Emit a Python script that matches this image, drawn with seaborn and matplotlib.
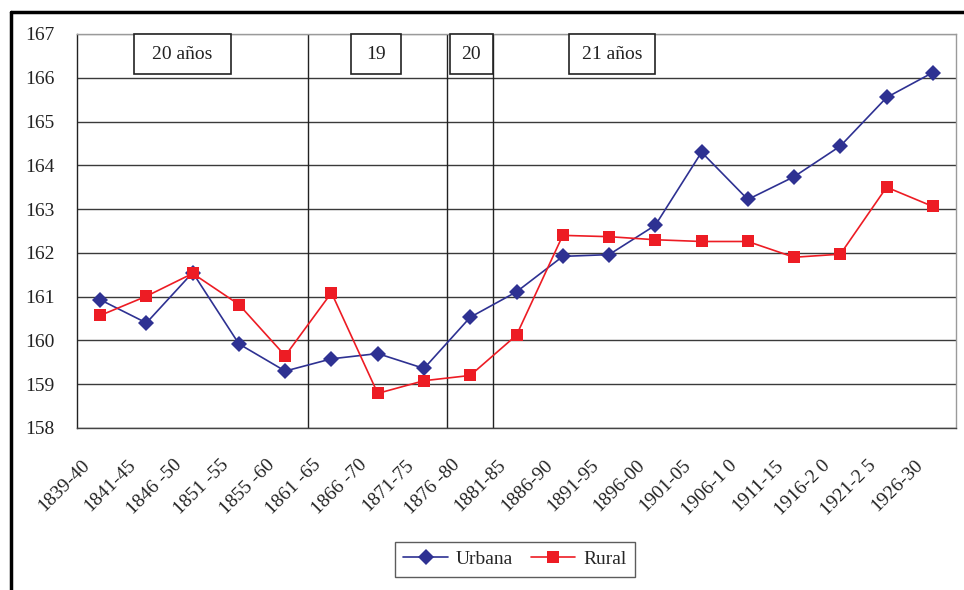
import numpy as np
import pandas as pd
import matplotlib.pyplot as plt
import matplotlib.transforms as mtransforms
from matplotlib.patches import Rectangle
from matplotlib.lines import Line2D
import seaborn as sns

# ── Data ──────────────────────────────────────────────────────
periodos = ["1839-40", "1841-45", "1846 -50", "1851 -55", "1855 -60",
            "1861 -65", "1866 -70", "1871-75", "1876 -80", "1881-85",
            "1886-90", "1891-95", "1896-00", "1901-05", "1906-1 0",
            "1911-15", "1916-2 0", "1921-2 5", "1926-30"]
urbana = [160.93, 160.40, 161.55, 159.92, 159.30, 159.58, 159.70, 159.36,
          160.53, 161.11, 161.92, 161.96, 162.63, 164.30, 163.22, 163.74,
          164.44, 165.55, 166.12]
rural = [160.57, 161.01, 161.53, 160.82, 159.65, 161.09, 158.79, 159.08,
         159.20, 160.12, 162.40, 162.37, 162.30, 162.26, 162.26, 161.90,
         161.97, 163.50, 163.06]
cortes = [4.5, 7.5, 8.5]
etiquetas = ["20 años", "19", "20", "21 años"]

df = pd.DataFrame({"pos": np.arange(len(periodos)), "Urbana": urbana, "Rural": rural})
long = df.melt(id_vars="pos", var_name="serie", value_name="talla")

# ── Style ─────────────────────────────────────────────────────
sns.set_style("white")
plt.rcParams["font.family"] = ["Liberation Serif", "DejaVu Serif"]
colores = {"Urbana": "#2E3192", "Rural": "#ED1C24"}
marcas = {"Urbana": "D", "Rural": "s"}
fs = 14

fig = plt.figure(figsize=(9.64, 5.90), dpi=100)
ax = fig.add_axes([0.0799, 0.2746, 0.9118, 0.6678])

# ── Grid and period separators ────────────────────────────────
for v in range(158, 168):
    ax.axhline(v, color="#3a3a3a" if v < 167 else "#9a9a9a", lw=1.0, zorder=1)
for c in cortes:
    ax.axvline(c, color="#222222", lw=1.0, zorder=1)

sns.lineplot(data=long, x="pos", y="talla", hue="serie", style="serie",
             palette=colores, markers=marcas, dashes=False, sort=False,
             lw=1.2, markersize=8, markeredgewidth=0, legend=False, ax=ax, zorder=3)

ax.set_xlim(-0.5, len(periodos) - 0.5)
ax.set_ylim(158, 167)
ax.set_yticks(range(158, 168))
ax.set_xticks(np.arange(len(periodos)))
ax.set_xticklabels(periodos, rotation=45, ha="right", va="center", rotation_mode="anchor")
ax.set_xticks(np.arange(len(periodos) + 1) - 0.5, minor=True)
ax.tick_params(axis="x", which="major", length=0, pad=25, labelsize=fs, labelcolor="#222222")
ax.tick_params(axis="x", which="minor", length=6, width=1, color="#444444", direction="out")
ax.tick_params(axis="y", length=6, width=1, color="#444444", direction="out",
               labelsize=fs, labelcolor="#222222", pad=10)
shift = mtransforms.ScaledTranslation(-0.13, 0, fig.dpi_scale_trans)
for t in ax.get_xticklabels():
    t.set_transform(t.get_transform() + shift)
ax.set_xlabel("")
ax.set_ylabel("")

for s in ["top", "right"]:
    ax.spines[s].set_color("#9a9a9a")
ax.spines["left"].set_color("#222222")
ax.spines["bottom"].set_color("#444444")
for s in ax.spines.values():
    s.set_linewidth(1.0)

# ── Year boxes ────────────────────────────────────────────────
cajas = [(0.73, 2.83), (5.42, 6.50), (7.56, 8.49), (10.14, 11.99)]
for (x0, x1), txt in zip(cajas, etiquetas):
    ax.add_patch(Rectangle((x0, 166.09), x1 - x0, 0.91, fill=True, fc="white",
                           ec="#222222", lw=1.2, zorder=4, clip_on=False))
    ax.text((x0 + x1) / 2, 166.54, txt, ha="center", va="center",
            fontsize=fs, color="#222222", zorder=5)

# ── Legend ────────────────────────────────────────────────────
handles = [Line2D([], [], color=colores[k], marker=marcas[k], lw=1.2,
                  markersize=8, markeredgewidth=0) for k in ["Urbana", "Rural"]]
leg = fig.legend(handles, ["Urbana", "Rural"], loc="center",
                 bbox_to_anchor=(0.534, 0.052), ncol=2, frameon=True,
                 fancybox=False, edgecolor="#333333", fontsize=fs,
                 handlelength=2.3, handletextpad=0.4, columnspacing=0.9,
                 borderpad=0.45, borderaxespad=0)
leg.get_frame().set_linewidth(1.0)

# ── Outer frame ───────────────────────────────────────────────
fig.add_artist(Line2D([0.0114, 1.0], [0.9797, 0.9797], color="black", lw=2.5))
fig.add_artist(Line2D([0.0114, 0.0114], [0.9797, 0.0], color="black", lw=2.5))

fig.savefig("out.png", dpi=100)
